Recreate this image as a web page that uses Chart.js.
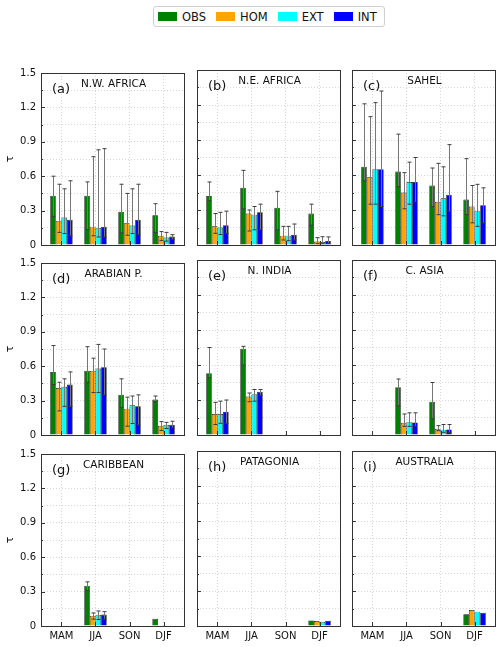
<!DOCTYPE html>
<html>
<head>
<meta charset="utf-8">
<script src="https://cdn.jsdelivr.net/npm/chart.js@4.4.1/dist/chart.umd.min.js"></script>
<style>
  body { margin: 0; background: #fff; font-family: "DejaVu Sans", sans-serif; }
  #wrap { position: relative; width: 500px; height: 647px; }
  canvas { position: absolute; }
  #legend {
    position: absolute; left: 153px; top: 6px; width: 226px; height: 19px;
    border: 1px solid #d0d0d0; border-radius: 3px; background: #fff;
    display: flex; align-items: center; padding-left: 4px; box-sizing: content-box;
    font-size: 11.5px; color: #111;
  }
  #legend .item { display: flex; align-items: center; margin-right: 10px; }
  #legend .sw { width: 19px; height: 9px; margin-right: 5px; }
</style>
</head>
<body>
<div id="wrap">
  <div id="legend"></div>
</div>
<script>
// categories / series
const seasons = ['MAM', 'JJA', 'SON', 'DJF'];
const seriesNames = ['OBS', 'HOM', 'EXT', 'INT'];
const seriesColors = ['#008000', '#ffa500', '#00ffff', '#0000ff'];
const yTicks = [0, 0.15, 0.3, 0.45, 0.6, 0.75, 0.9, 1.05, 1.2, 1.35, 1.5];

// rows = OBS, HOM, EXT, INT ; columns = MAM, JJA, SON, DJF
const nwAfricaVal = [[0.43, 0.43, 0.29, 0.26], [0.21, 0.16, 0.19, 0.08], [0.24, 0.15, 0.17, 0.066], [0.22, 0.16, 0.22, 0.074]];
const nwAfricaLo  = [[0.25, 0.135, 0.105, 0.11], [0.11, 0.08, 0.085, 0.04], [0.10, 0.07, 0.10, 0.034], [0.08, 0.07, 0.094, 0.05]];
const nwAfricaHi  = [[0.60, 0.55, 0.53, 0.36], [0.53, 0.77, 0.45, 0.117], [0.49, 0.83, 0.49, 0.11], [0.56, 0.84, 0.53, 0.09]];

const neAfricaVal = [[0.42, 0.49, 0.32, 0.27], [0.16, 0.27, 0.08, 0.03], [0.15, 0.26, 0.08, 0.026], [0.17, 0.28, 0.086, 0.034]];
const neAfricaLo  = [[0.38, 0.31, 0.13, 0.17], [0.10, 0.12, 0.043, 0.011], [0.09, 0.13, 0.037, 0.011], [0.10, 0.13, 0.043, 0.014]];
const neAfricaHi  = [[0.54, 0.64, 0.46, 0.35], [0.27, 0.30, 0.16, 0.063], [0.28, 0.33, 0.16, 0.071], [0.29, 0.35, 0.18, 0.069]];

const sahelVal = [[0.67, 0.63, 0.51, 0.39], [0.58, 0.45, 0.37, 0.33], [0.65, 0.54, 0.40, 0.29], [0.65, 0.54, 0.43, 0.34]];
const sahelLo  = [[0.55, 0.50, 0.33, 0.26], [0.35, 0.31, 0.26, 0.19], [0.35, 0.35, 0.25, 0.16], [0.33, 0.37, 0.29, 0.19]];
const sahelHi  = [[1.21, 0.95, 0.66, 0.74], [1.10, 0.62, 0.70, 0.51], [1.22, 0.71, 0.67, 0.52], [1.32, 0.75, 0.86, 0.49]];

const arabianVal = [[0.55, 0.56, 0.35, 0.31], [0.41, 0.56, 0.23, 0.08], [0.42, 0.58, 0.26, 0.09], [0.44, 0.59, 0.25, 0.09]];
const arabianLo  = [[0.44, 0.46, 0.24, 0.29], [0.21, 0.37, 0.077, 0.04], [0.25, 0.37, 0.10, 0.057], [0.25, 0.35, 0.088, 0.063]];
const arabianHi  = [[0.78, 0.77, 0.49, 0.34], [0.46, 0.67, 0.33, 0.117], [0.49, 0.79, 0.34, 0.11], [0.55, 0.75, 0.35, 0.12]];

const nIndiaVal = [[0.53, 0.74, null, null], [0.18, 0.33, null, null], [0.18, 0.35, null, null], [0.20, 0.37, null, null]];
const nIndiaLo  = [[0.49, 0.60, null, null], [0.09, 0.285, null, null], [0.10, 0.29, null, null], [0.10, 0.34, null, null]];
const nIndiaHi  = [[0.75, 0.76, null, null], [0.28, 0.36, null, null], [0.29, 0.39, null, null], [0.30, 0.39, null, null]];

const cAsiaVal = [[null, 0.41, 0.285, null], [null, 0.105, 0.054, null], [null, 0.11, 0.046, null], [null, 0.108, 0.048, null]];
const cAsiaLo  = [[null, 0.25, 0.14, null], [null, 0.074, 0.037, null], [null, 0.074, 0.023, null], [null, 0.077, 0.023, null]];
const cAsiaHi  = [[null, 0.48, 0.45, null], [null, 0.18, 0.08, null], [null, 0.19, 0.09, null], [null, 0.19, 0.09, null]];

const caribbeanVal = [[null, 0.35, null, 0.063], [null, 0.088, null, null], [null, 0.097, null, null], [null, 0.10, null, null]];
const caribbeanLo  = [[null, 0.31, null, null], [null, 0.06, null, null], [null, 0.057, null, null], [null, 0.06, null, null]];
const caribbeanHi  = [[null, 0.385, null, null], [null, 0.114, null, null], [null, 0.131, null, null], [null, 0.125, null, null]];

const patagoniaVal = [[null, null, null, 0.048], [null, null, null, 0.043], [null, null, null, 0.037], [null, null, null, 0.046]];
const australiaVal = [[null, null, null, 0.10], [null, null, null, 0.137], [null, null, null, 0.123], [null, null, null, 0.114]];

const panels = [
  { tag: '(a)', title: 'N.W. AFRICA', val: nwAfricaVal, lo: nwAfricaLo, hi: nwAfricaHi },
  { tag: '(b)', title: 'N.E. AFRICA', val: neAfricaVal, lo: neAfricaLo, hi: neAfricaHi },
  { tag: '(c)', title: 'SAHEL', val: sahelVal, lo: sahelLo, hi: sahelHi },
  { tag: '(d)', title: 'ARABIAN P.', val: arabianVal, lo: arabianLo, hi: arabianHi },
  { tag: '(e)', title: 'N. INDIA', val: nIndiaVal, lo: nIndiaLo, hi: nIndiaHi },
  { tag: '(f)', title: 'C. ASIA', val: cAsiaVal, lo: cAsiaLo, hi: cAsiaHi },
  { tag: '(g)', title: 'CARIBBEAN', val: caribbeanVal, lo: caribbeanLo, hi: caribbeanHi },
  { tag: '(h)', title: 'PATAGONIA', val: patagoniaVal, lo: null, hi: null },
  { tag: '(i)', title: 'AUSTRALIA', val: australiaVal, lo: null, hi: null },
];

// grid geometry (plot area of each panel)
const colLeft = [41, 197, 352];
const rowTop = [70, 260, 451];
const areaW = 143, areaH = 175;
const padL = 40, padT = 8, padR = 5, padB = 22;

// legend
const legend = document.getElementById('legend');
seriesNames.forEach((n, i) => {
  const it = document.createElement('div');
  it.className = 'item';
  it.innerHTML = `<span class="sw" style="background:${seriesColors[i]}"></span><span>${n}</span>`;
  legend.appendChild(it);
});

function decor(p) {
  return {
    id: 'decor',
    afterDatasetsDraw(chart) {
      const ctx = chart.ctx;
      const ys = chart.scales.y;
      if (!p.lo) return;
      ctx.save();
      ctx.lineWidth = 1;
      chart.data.datasets.forEach((ds, d) => {
        chart.getDatasetMeta(d).data.forEach((bar, i) => {
          const lo = p.lo[d][i], hi = p.hi[d][i];
          if (lo == null || hi == null || p.val[d][i] == null) return;
          const x = Math.round(bar.x) + 0.5;
          const y1 = ys.getPixelForValue(lo), y2 = ys.getPixelForValue(hi);
          ctx.strokeStyle = '#777';
          ctx.beginPath(); ctx.moveTo(x, y1); ctx.lineTo(x, y2); ctx.stroke();
          ctx.strokeStyle = '#3c3c3c';
          ctx.beginPath();
          ctx.moveTo(x - 2, y1); ctx.lineTo(x + 2, y1);
          ctx.moveTo(x - 2, y2); ctx.lineTo(x + 2, y2);
          ctx.stroke();
        });
      });
      ctx.restore();
    },
    afterDraw(chart) {
      const ctx = chart.ctx;
      const { left, top, right, bottom } = chart.chartArea;
      const ys = chart.scales.y, xs = chart.scales.x;
      ctx.save();
      ctx.strokeStyle = '#333';
      ctx.lineWidth = 1;
      ctx.beginPath();
      yTicks.forEach((v, k) => {
        const y = Math.round(ys.getPixelForValue(v)) + 0.5;
        const len = k % 2 === 0 ? 4 : 2;
        ctx.moveTo(left, y); ctx.lineTo(left + len, y);
      });
      seasons.forEach((s, i) => {
        const x = Math.round(xs.getPixelForValue(i)) + 0.5;
        ctx.moveTo(x, bottom); ctx.lineTo(x, bottom - 4);
      });
      ctx.stroke();
      ctx.strokeRect(Math.round(left) + 0.5, Math.round(top) + 0.5, Math.round(right - left), Math.round(bottom - top));
      ctx.fillStyle = '#111';
      ctx.textBaseline = 'middle';
      ctx.textAlign = 'left';
      ctx.font = '13px "DejaVu Sans"';
      ctx.fillText(p.tag, left + 11, top + 17);
      ctx.textAlign = 'center';
      ctx.font = '10.5px "DejaVu Sans"';
      ctx.fillText(p.title, (left + right) / 2 + 1, top + 11);
      ctx.restore();
    }
  };
}

panels.forEach((p, idx) => {
  const col = idx % 3, row = Math.floor(idx / 3);
  const cv = document.createElement('canvas');
  const w = padL + areaW + padR, h = padT + areaH + padB;
  cv.width = w; cv.height = h;
  cv.style.left = (colLeft[col] - padL) + 'px';
  cv.style.top = (rowTop[row] - padT) + 'px';
  cv.style.width = w + 'px'; cv.style.height = h + 'px';
  document.getElementById('wrap').appendChild(cv);

  new Chart(cv, {
    type: 'bar',
    data: {
      labels: [0, 1, 2, 3],
      datasets: seriesNames.map((n, d) => ({
        label: n,
        data: p.val[d],
        backgroundColor: seriesColors[d],
        borderColor: '#111',
        borderWidth: 0.7,
        categoryPercentage: 0.66,
        barPercentage: 1,
      }))
    },
    options: {
      responsive: false,
      animation: false,
      layout: { padding: { left: 0, top: padT, right: padR, bottom: 0 } },
      plugins: { legend: { display: false }, tooltip: { enabled: false } },
      scales: {
        x: {
          type: 'linear',
          offset: false,
          min: -0.6, max: 3.6,
          afterBuildTicks: (s) => { s.ticks = seasons.map((_, i) => ({ value: i })); },
          afterFit: (s) => { s.height = padB; },
          grid: { offset: false, color: 'rgba(0,0,0,0.2)', lineWidth: 0.8, drawTicks: false },
          border: { display: false, dash: [1, 2] },
          ticks: {
            display: row === 2,
            padding: 4,
            color: '#111',
            font: { family: 'DejaVu Sans', size: 10 },
            maxRotation: 0,
            callback: (v) => seasons[v] ?? ''
          }
        },
        y: {
          min: 0, max: 1.5,
          afterBuildTicks: (s) => { s.ticks = yTicks.map(v => ({ value: v })); },
          afterFit: (s) => { s.width = padL; },
          grid: { color: 'rgba(0,0,0,0.2)', lineWidth: 0.8, drawTicks: false },
          border: { display: false, dash: [1, 2] },
          title: {
            display: col === 0,
            text: 'τ',
            color: '#111',
            padding: 3,
            font: { family: 'DejaVu Sans', size: 11 }
          },
          ticks: {
            display: col === 0,
            padding: 5,
            color: '#111',
            font: { family: 'DejaVu Sans', size: 10 },
            callback: (v, k) => (k % 2 === 0 ? (v === 0 ? '0' : v.toFixed(1)) : '')
          }
        }
      }
    },
    plugins: [decor(p)]
  });
});
</script>
</body>
</html>
